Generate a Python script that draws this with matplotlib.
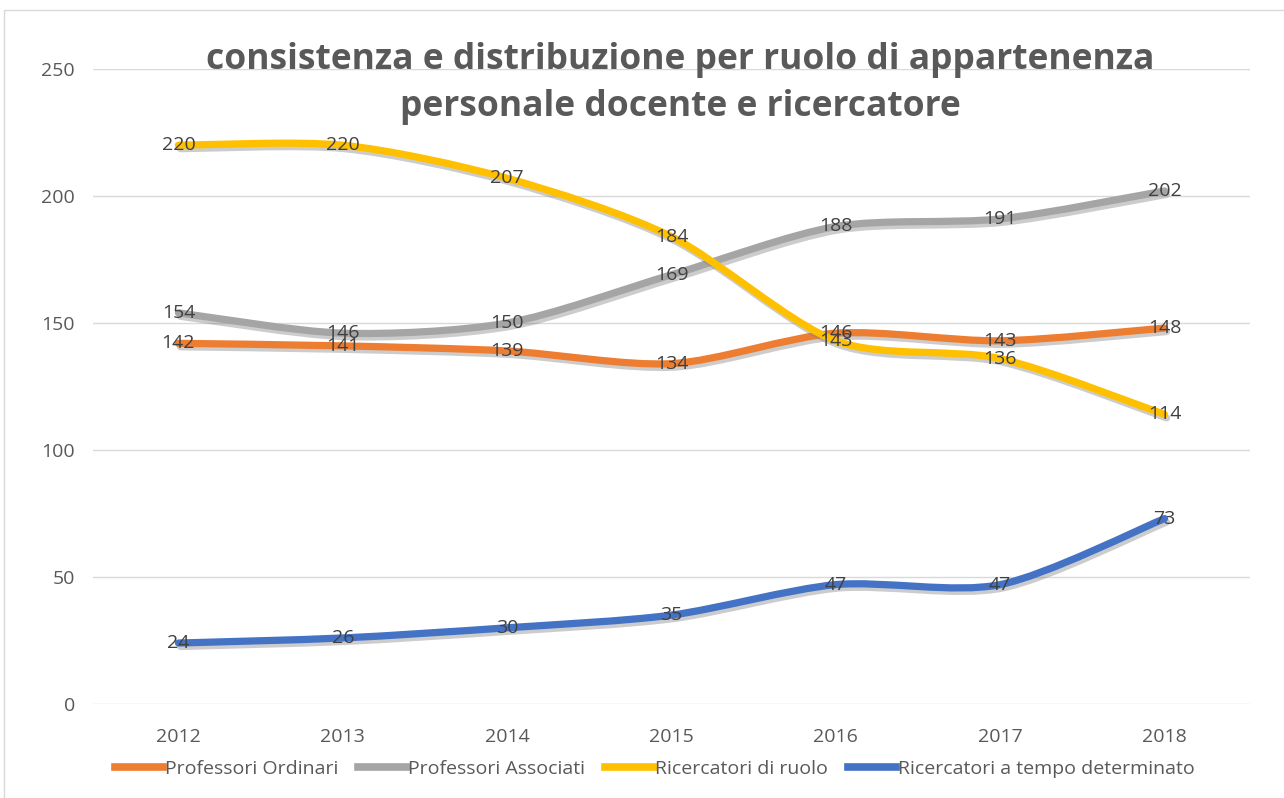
import numpy as np
import matplotlib
matplotlib.use("Agg")
import matplotlib.pyplot as plt
from matplotlib.path import Path
from matplotlib.patches import PathPatch, Rectangle
import matplotlib.patheffects as pe
from matplotlib.lines import Line2D

years = ["2012", "2013", "2014", "2015", "2016", "2017", "2018"]
ordinari = [142, 141, 139, 134, 146, 143, 148]
associati = [154, 146, 150, 169, 188, 191, 202]
ric_ruolo = [220, 220, 207, 184, 143, 136, 114]
ric_td = [24, 26, 30, 35, 47, 47, 73]
series_names = ["Professori Ordinari", "Professori Associati",
                "Ricercatori di ruolo", "Ricercatori a tempo determinato"]
colors = ["#ED7D31", "#A5A5A5", "#FFC000", "#4472C4"]
title = "consistenza e distribuzione per ruolo di appartenenza\npersonale docente e ricercatore"

plt.rcParams['font.family'] = ['Open Sans', 'DejaVu Sans']

fig = plt.figure(figsize=(12.84, 7.98), dpi=100)
ax = fig.add_axes([0.0724, 0.1178, 0.9011, 0.7957])
x = np.arange(len(years))
ax.set_xlim(-0.52, len(years) - 0.48)
ax.set_ylim(0, 250)
ax.set_yticks([0, 50, 100, 150, 200, 250])
ax.set_xticks(x)
ax.set_xticklabels(years)
ax.yaxis.grid(True, color="#D9D9D9", lw=1.0)
ax.set_axisbelow(True)
for s in ax.spines.values():
    s.set_visible(False)
ax.tick_params(axis='both', length=0, colors="#595959", labelsize=14)
ax.tick_params(axis='y', pad=13)
ax.tick_params(axis='x', pad=17)


def smooth_path(xs, ys, t=0.14):
    xs = np.asarray(xs, float); ys = np.asarray(ys, float)
    n = len(xs)
    verts = [(xs[0], ys[0])]
    codes = [Path.MOVETO]
    for i in range(n - 1):
        p0 = np.array([xs[max(i - 1, 0)], ys[max(i - 1, 0)]])
        p1 = np.array([xs[i], ys[i]])
        p2 = np.array([xs[i + 1], ys[i + 1]])
        p3 = np.array([xs[min(i + 2, n - 1)], ys[min(i + 2, n - 1)]])
        c1 = p1 + (p2 - p0) * t
        c2 = p2 - (p3 - p1) * t
        verts += [tuple(c1), tuple(c2), tuple(p2)]
        codes += [Path.CURVE4] * 3
    return Path(verts, codes)


all_series = [ordinari, associati, ric_ruolo, ric_td]
for vals, col in zip(all_series, colors):
    patch = PathPatch(smooth_path(x, vals), facecolor='none', edgecolor=col,
                      lw=5.2, capstyle='round', joinstyle='round', zorder=3)
    patch.set_path_effects([pe.SimpleLineShadow(offset=(1.5, -2.5), shadow_color='#808080', alpha=0.4),
                            pe.Normal()])
    ax.add_patch(patch)

for vals in all_series:
    for xi, v in zip(x, vals):
        ax.text(xi, v, str(v), ha='center', va='center', fontsize=14,
                color="#404040", zorder=5)

fig.text(0.53, 0.895, title, ha='center', va='center', fontsize=25.5,
         fontweight='bold', color="#595959", linespacing=1.4)

handles = [Line2D([0], [0], color=c, lw=5.5) for c in colors]
leg = fig.legend(handles, series_names, loc='center', bbox_to_anchor=(0.51, 0.036),
                 ncol=4, frameon=False, fontsize=14, handlelength=2.5,
                 handletextpad=0.1, columnspacing=1.0, labelcolor="#595959")

fig.patches.append(Rectangle((0.003, -0.01), 1.0, 0.998, transform=fig.transFigure,
                             fill=False, edgecolor="#D9D9D9", lw=1.0))

fig.savefig("out.png", dpi=100, facecolor="white")
